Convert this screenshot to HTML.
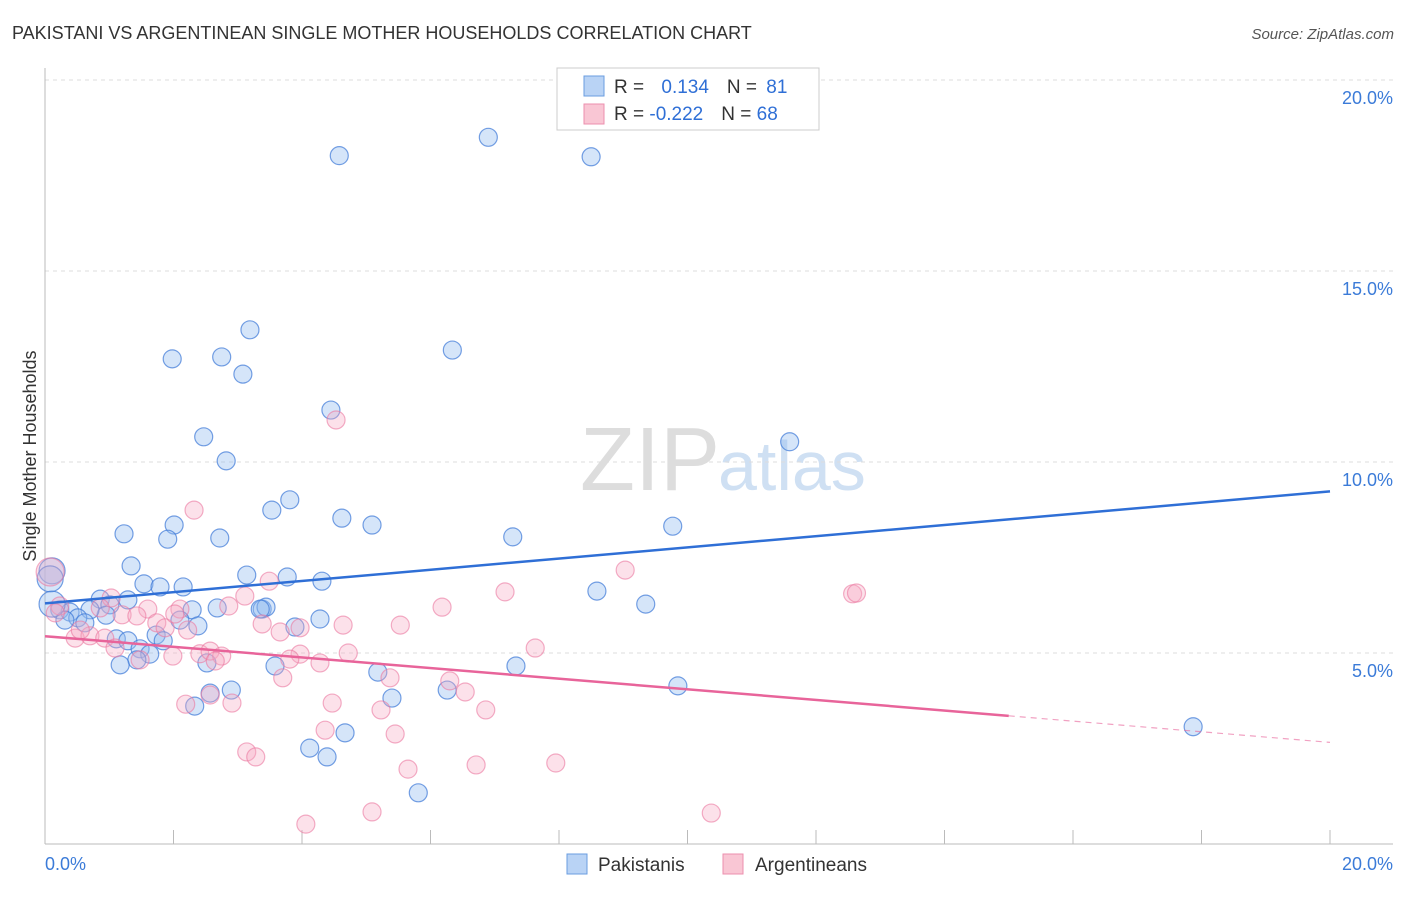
<!DOCTYPE html>
<html><head><meta charset="utf-8"><style>
body{margin:0;background:#fff;font-family:"Liberation Sans",sans-serif}
svg text{font-family:"Liberation Sans",sans-serif}
</style></head><body>
<svg id="c" width="1406" height="892">
<text x="12" y="39" font-size="18" fill="#333">PAKISTANI VS ARGENTINEAN SINGLE MOTHER HOUSEHOLDS CORRELATION CHART</text>
<text x="1394" y="39" font-size="15" fill="#555" font-style="italic" text-anchor="end">Source: ZipAtlas.com</text>
<text x="36" y="456" font-size="18" fill="#333" text-anchor="middle" transform="rotate(-90 36 456)">Single Mother Households</text>
<text x="720" y="490" font-size="90" fill="#ddd" text-anchor="end" font-family="Liberation Serif">ZIP</text>
<text x="718" y="490" font-size="70" fill="#cfe0f3">atlas</text>
<g id="grid"></g><g id="pts"></g><g id="lines"></g>
<g>
<rect x="557" y="68" width="262" height="62" fill="#fff" stroke="#ccc"/>
<rect x="584" y="76" width="20" height="20" fill="#b9d3f5" stroke="#6a9de0"/>
<rect x="584" y="104" width="20" height="20" fill="#f9c6d4" stroke="#ec8fae"/>
<text x="614" y="93" font-size="19" fill="#333">R = <tspan fill="#2f6fd6" dx="12">0.134</tspan><tspan dx="18" fill="#333">N = </tspan><tspan fill="#2f6fd6" dx="4">81</tspan></text>
<text x="614" y="120" font-size="19" fill="#333">R = <tspan fill="#2f6fd6">-0.222</tspan><tspan dx="18" fill="#333">N = </tspan><tspan fill="#2f6fd6">68</tspan></text>
</g>
<g>
<rect x="567" y="854" width="20" height="20" fill="#b9d3f5" stroke="#6a9de0"/>
<text x="598" y="871" font-size="19" fill="#333">Pakistanis</text>
<rect x="723" y="854" width="20" height="20" fill="#f9c6d4" stroke="#ec8fae"/>
<text x="755" y="871" font-size="19" fill="#333">Argentineans</text>
</g>
<text x="45" y="870" font-size="18" fill="#3b7bd8">0.0%</text>
<text x="1393" y="870" font-size="18" fill="#3b7bd8" text-anchor="end">20.0%</text>
</svg>
<script>
const yTicks=[5,10,15,20];
const yTickLabels=["5.0%","10.0%","15.0%","20.0%"];
const xTicks=[2,4,6,8,10,12,14,16,18,20];
const blueX=[6.9,4.58,8.5,3.19,1.98,2.75,3.08,6.34,4.45,2.47,2.82,11.59,3.81,3.53,4.62,5.09,2.01,1.23,1.91,2.72,7.28,9.77,1.34,3.14,3.77,4.31,1.54,1.79,2.15,8.59,9.35,0.86,1.29,1.01,2.68,2.29,3.38,3.44,3.35,4.28,0.95,2.1,2.38,3.89,0.23,0.39,0.7,0.51,0.62,0.31,1.11,1.29,1.73,1.84,1.48,1.63,1.43,1.17,2.52,3.58,5.18,5.4,7.33,6.26,2.57,2.9,2.33,9.85,4.67,4.12,4.39,5.81,17.87,0.11,0.08,0.11];
const blueY=[18.5,18.02,17.99,13.46,12.7,12.75,12.3,12.93,11.36,10.66,10.03,10.53,9.01,8.74,8.53,8.35,8.35,8.12,7.98,8.01,8.04,8.32,7.28,7.04,6.99,6.88,6.81,6.73,6.73,6.62,6.28,6.41,6.39,6.26,6.18,6.13,6.15,6.2,6.15,5.89,5.99,5.86,5.71,5.68,6.13,6.07,6.13,5.92,5.79,5.86,5.37,5.32,5.47,5.32,5.11,4.97,4.82,4.69,4.74,4.66,4.5,3.82,4.66,4.03,3.95,4.03,3.61,4.14,2.91,2.51,2.28,1.34,3.07,7.15,6.94,6.28];
const pinkX=[4.53,2.32,9.03,3.49,7.16,6.18,12.57,12.63,1.03,1.6,2.1,2.86,3.11,0.86,1.2,1.43,1.74,1.87,2.02,2.22,3.38,3.66,3.97,4.64,5.53,7.63,2.41,2.57,2.75,1.99,2.65,3.97,3.81,4.28,4.72,5.37,3.7,2.57,2.19,2.91,4.47,5.23,6.3,6.54,6.86,4.36,5.45,3.14,3.28,5.65,6.71,7.95,5.09,4.06,10.37,0.23,0.16,0.47,0.7,0.55,0.93,0.08,1.48,1.09];
const pinkY=[11.1,8.74,7.17,6.88,6.6,6.2,6.55,6.57,6.44,6.15,6.15,6.23,6.49,6.18,6.0,5.97,5.79,5.66,6.02,5.6,5.76,5.55,5.66,5.73,5.73,5.13,4.98,5.05,4.92,4.92,4.79,4.97,4.84,4.74,5.0,4.35,4.35,3.9,3.66,3.69,3.69,3.51,4.27,3.98,3.51,2.98,2.88,2.41,2.28,1.96,2.07,2.12,0.84,0.52,0.81,6.23,6.05,5.39,5.45,5.6,5.39,7.12,4.82,5.13];
const blueTrend=[6.3,9.23];   // y at x=0 and x=20
const pinkTrend=[5.44,2.66];  // y at x=0 and x=20
const pinkSolidEnd=15;
const X=v=>45+v/20*1285, Y=v=>844-v/5*191;
const NS="http://www.w3.org/2000/svg";
function mk(p,t,a){const e=document.createElementNS(NS,t);for(const k in a)e.setAttribute(k,a[k]);p.appendChild(e);return e;}
const grid=document.getElementById('grid');
yTicks.forEach((t,i)=>{
 const l=mk(grid,'line',{x1:45,x2:1393,y1:Y(t),y2:Y(t),stroke:'#ddd','stroke-dasharray':'4,4'});
 
 
 const tx=mk(grid,'text',{x:1393,y:Y(t)+24,'font-size':18,fill:'#3b7bd8','text-anchor':'end'});
 tx.textContent=yTickLabels[i];
 
 
});
mk(grid,'line',{x1:45,x2:45,y1:68,y2:844,stroke:'#bbb'});
mk(grid,'line',{x1:45,x2:1393,y1:844,y2:844,stroke:'#bbb'});
xTicks.forEach(t=>{
 const l=mk(grid,'line',{x1:X(t),x2:X(t),y1:830,y2:844,stroke:'#bbb'});
 
 
});
const pts=document.getElementById('pts');
blueX.forEach((x,i)=>{
 const c=mk(pts,'circle',{cx:X(x),cy:Y(blueY[i]),r:(i>=73?13:9),fill:'rgba(150,190,240,0.4)',stroke:'rgba(60,120,215,0.7)','stroke-width':1.2});
 
 
});
pinkX.forEach((x,i)=>{
 const c=mk(pts,'circle',{cx:X(x),cy:Y(pinkY[i]),r:(i==61?14:9),fill:'rgba(245,170,195,0.35)',stroke:'rgba(235,120,160,0.6)','stroke-width':1.2});
 
 
});
const ln=document.getElementById('lines');
let b=mk(ln,'line',{x1:X(0),y1:Y(blueTrend[0]),x2:X(20),y2:Y(blueTrend[1]),stroke:'#2f6fd6','stroke-width':2.5});


const pm=pinkTrend[0]+(pinkTrend[1]-pinkTrend[0])*pinkSolidEnd/20;
let p=mk(ln,'line',{x1:X(0),y1:Y(pinkTrend[0]),x2:X(pinkSolidEnd),y2:Y(pm),stroke:'#e8649a','stroke-width':2.5});


let pd=mk(ln,'line',{x1:X(pinkSolidEnd),y1:Y(pm),x2:X(20),y2:Y(pinkTrend[1]),stroke:'#e8649a','stroke-width':1.2,'stroke-dasharray':'6,5','opacity':0.6});


</script>
</body></html>
